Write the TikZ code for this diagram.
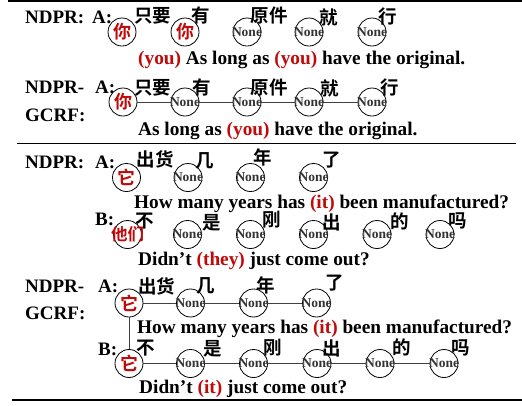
\documentclass[tikz,border=0pt]{standalone}
\usepackage{fontspec}
\setmainfont{Liberation Serif}
\newfontfamily\cjk{Noto Sans CJK SC Bold}
\definecolor{myred}{RGB}{192,10,10}
\tikzset{
  lab/.style={anchor=base west, inner sep=0pt, font=\fontsize{19}{19}\selectfont\bfseries},
  sent/.style={anchor=base west, inner sep=0pt, font=\fontsize{19.3}{20}\selectfont\bfseries},
  zh/.style={inner sep=0pt, font=\fontsize{18.5}{18.5}\cjk},
  tok/.style={circle, draw, line width=0.8pt, minimum size=28pt, inner sep=0pt},
  nonet/.style={tok, font=\fontsize{13.5}{13.5}\selectfont\bfseries, text=black!80},
  redt/.style={tok, font=\fontsize{18}{18}\cjk, text=myred},
  link/.style={line width=0.8pt, draw=black!75},
  rulel/.style={line width=1.3pt}
}
\newcommand{\nn}{\makebox[0pt]{None}}
\newcommand{\rw}[1]{{\color{myred}#1}}
\begin{document}
\begin{tikzpicture}[x=1pt,y=-1pt]
\useasboundingbox (0,0) rectangle (522,405);
% rules
\draw[rulel] (8,1) -- (522,1);
\draw[line width=1pt] (17,143.5) -- (516,143.5);
\draw[line width=1.8pt] (12,400) -- (522,400);

% ---------- Section 1 : NDPR ----------
\node[lab] (l1) at (25,23) {NDPR:};
\node[lab] (l1a) at (92,23) {A:};
\node[zh] (z11) at (152.5,16) {只要};
\node[zh] (z12) at (201,15) {有};
\node[zh] (z13) at (269,15) {原件};
\node[zh] (z14) at (329,17) {就};
\node[zh] (z15) at (388,16) {行};
\node[redt] (c11) at (122,32) {\makebox[0pt]{你}};
\node[redt] (c12) at (185,32) {\makebox[0pt]{你}};
\node[nonet] (c13) at (247,32) {\nn};
\node[nonet] (c14) at (309,32) {\nn};
\node[nonet] (c15) at (372,32) {\nn};
\node[sent] (s1) at (138,64) {\rw{(you)} As long as \rw{(you)} have the original.};

% ---------- Section 1 : NDPR-GCRF ----------
\node[lab] (l2) at (25,93) {NDPR-};
\node[lab] (l2b) at (25,121) {GCRF:};
\node[lab] (l2a) at (95,93) {A:};
\node[zh] (z21) at (152.5,88) {只要};
\node[zh] (z22) at (202,87) {有};
\node[zh] (z23) at (269,87) {原件};
\node[zh] (z24) at (330,88) {就};
\node[zh] (z25) at (390,87) {行};
\node[redt] (c21) at (123,102) {\makebox[0pt]{你}};
\node[nonet] (c22) at (185,102) {\nn};
\node[nonet] (c23) at (247,102) {\nn};
\node[nonet] (c24) at (309,102) {\nn};
\node[nonet] (c25) at (372,102) {\nn};
\draw[link] (c21) -- (c22);
\draw[link] (c22) -- (c23);
\draw[link] (c23) -- (c24);
\draw[link] (c24) -- (c25);
\node[sent] (s2) at (138,135) {As long as \rw{(you)} have the original.};

% ---------- Section 2 : NDPR ----------
\node[lab] (l3) at (25,168) {NDPR:};
\node[lab] (l3a) at (95,168) {A:};
\node[zh] (z31) at (155,159) {出货};
\node[zh] (z32) at (204.5,161) {几};
\node[zh] (z33) at (263,157) {年};
\node[zh] (z34) at (332,160) {了};
\node[redt] (c31) at (126.5,177.5) {\makebox[0pt]{它}};
\node[nonet] (c32) at (188,177.5) {\nn};
\node[nonet] (c33) at (250.5,177.5) {\nn};
\node[nonet] (c34) at (313.5,177.5) {\nn};
\node[sent] (s3) at (134,208) {How many years has \rw{(it)} been manufactured?};
\node[lab] (l3b) at (95,225) {B:};
\node[zh] (z41) at (145,221.5) {不};
\node[zh] (z42) at (212,223) {是};
\node[zh] (z43) at (272,220) {刚};
\node[zh] (z44) at (332,222) {出};
\node[zh] (z45) at (400,221) {的};
\node[zh] (z46) at (458,221) {吗};
\node[tok, font=\fontsize{16.5}{16.5}\cjk, text=myred] (c41) at (127.5,234.5) {\makebox[0pt]{他们}};
\node[nonet] (c42) at (187.5,234.5) {\nn};
\node[nonet] (c43) at (250.5,234.5) {\nn};
\node[nonet] (c44) at (313.5,234.5) {\nn};
\node[nonet] (c45) at (377,234.5) {\nn};
\node[nonet] (c46) at (440,234.5) {\nn};
\node[sent] (s4) at (138,265) {Didn’t \rw{(they)} just come out?};

% ---------- Section 2 : NDPR-GCRF ----------
\node[lab] (l5) at (25,292) {NDPR-};
\node[lab] (l5b) at (25,319) {GCRF:};
\node[lab] (l5a) at (98,292) {A:};
\node[zh] (z51) at (156.5,286) {出货};
\node[zh] (z52) at (206,286) {几};
\node[zh] (z53) at (266,285) {年};
\node[zh] (z54) at (335,283) {了};
\node[redt] (c51) at (129,303) {\makebox[0pt]{它}};
\node[nonet] (c52) at (190.5,303) {\nn};
\node[nonet] (c53) at (253.5,303) {\nn};
\node[nonet] (c54) at (316.5,303) {\nn};
\draw[link] (c51) -- (c52);
\draw[link] (c52) -- (c53);
\draw[link] (c53) -- (c54);
\node[sent] (s5) at (137,333) {How many years has \rw{(it)} been manufactured?};
\node[lab] (l6b) at (98,355) {B:};
\node[zh] (z61) at (146,348) {不};
\node[zh] (z62) at (213,349) {是};
\node[zh] (z63) at (273,348) {刚};
\node[zh] (z64) at (332,348) {出};
\node[zh] (z65) at (401.5,347) {的};
\node[zh] (z66) at (461,348) {吗};
\node[redt] (c61) at (129,363.5) {\makebox[0pt]{它}};
\node[nonet] (c62) at (190.5,363.5) {\nn};
\node[nonet] (c63) at (253.5,363.5) {\nn};
\node[nonet] (c64) at (317,363.5) {\nn};
\node[nonet] (c65) at (380,363.5) {\nn};
\node[nonet] (c66) at (444,363.5) {\nn};
\draw[link] (c61) -- (c62);
\draw[link] (c62) -- (c63);
\draw[link] (c63) -- (c64);
\draw[link] (c64) -- (c65);
\draw[link] (c65) -- (c66);
\draw[link] (c51) -- (c61);
\node[sent] (s6) at (139,393) {Didn’t \rw{(it)} just come out?};
\end{tikzpicture}
\end{document}
